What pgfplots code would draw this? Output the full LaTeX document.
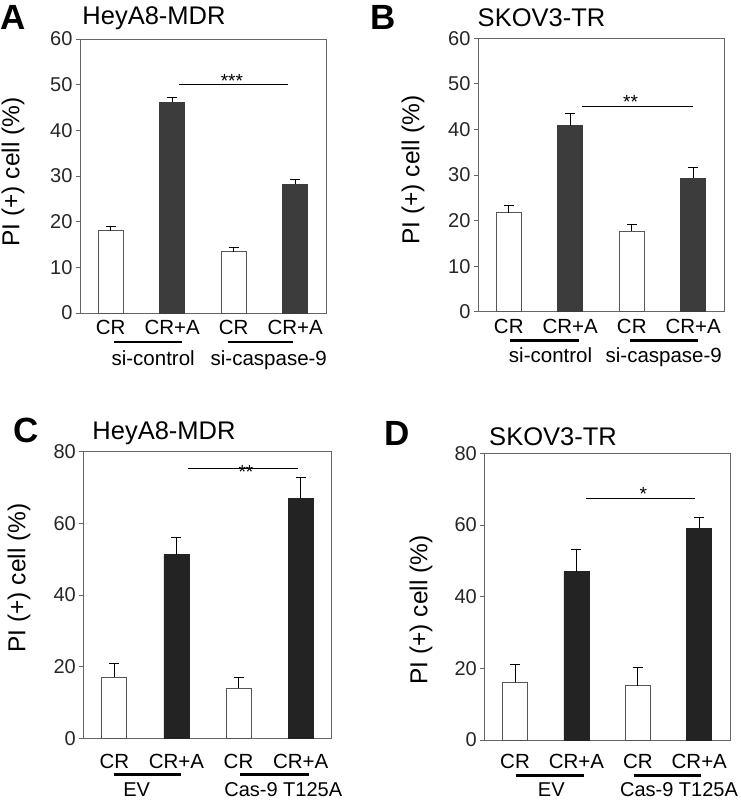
\documentclass[border=0pt]{standalone}
\usepackage{fontspec}
\setmainfont{Liberation Sans}
\usepackage{pgfplots}
\pgfplotsset{compat=1.18}
\definecolor{axgray}{HTML}{666666}
\definecolor{darkA}{HTML}{3C3C3C}
\definecolor{darkC}{HTML}{232323}
\definecolor{whiteedge}{HTML}{555555}
\newcommand{\fs}[1]{\fontsize{#1}{#1}\selectfont}
\pgfplotsset{
 panel/.style={
  scale only axis, anchor=south west,
  xmin=-0.5, xmax=3.5, ymin=0,
  axis line style={axgray, line width=0.8pt},
  xtick={0,1,2,3}, xticklabels={CR,CR+A,CR,CR+A},
  x tick style={draw=none},
  ytick pos=left, tick align=outside, major tick length=4pt,
  y tick style={axgray, line width=0.8pt},
  yticklabel style={font=\fs{20}, text=black!85},
  /pgf/number format/assume math mode=true,
  clip=false,
  ybar, bar width=25pt, bar shift=0pt,
 },
 wbar/.style={fill=white, draw=whiteedge, line width=0.8pt,
  error bars/.cd, y dir=plus, y explicit,
  error bar style={black, line width=1pt},
  error mark options={black, line width=1pt, mark size=5pt, rotate=90}},
 dbar/.style={fill=#1, draw=#1, line width=0.8pt,
  error bars/.cd, y dir=plus, y explicit,
  error bar style={black, line width=1pt},
  error mark options={black, line width=1pt, mark size=5pt, rotate=90}},
}
\begin{document}
\begin{tikzpicture}
\path[use as bounding box] (0,0) rectangle (741pt,800pt);
% ---------- A ----------
\begin{axis}[panel, at={(80pt,487pt)}, width=246pt, height=274pt,
  ymax=60, ytick={0,10,...,60},
  xticklabel style={font=\fs{20.5}, yshift=0pt}]
\addplot[wbar] coordinates {(0,18) +- (0,1.0) (2,13.4) +- (0,1.0)};
\addplot[dbar=darkA] coordinates {(1,46.1) +- (0,1.1) (3,28.2) +- (0,1.1)};
\draw[line width=1.1pt] (axis cs:1.11,50) -- (axis cs:2.88,50);
\node[font=\fs{19}, anchor=base, inner sep=0pt, yshift=-2.4pt] at (axis cs:1.97,50) {***};
\draw[line width=2.8pt] (axis cs:0.06,-6.35) -- (axis cs:1.16,-6.35);
\draw[line width=2.8pt] (axis cs:1.90,-6.35) -- (axis cs:2.97,-6.35);
\node[font=\fs{20.5}, anchor=base, inner sep=0pt] at (axis cs:0.69,-11.4) {si-control};
\node[font=\fs{20.5}, anchor=base, inner sep=0pt] at (axis cs:2.57,-11.4) {si-caspase-9};
\end{axis}
\node[font=\fs{35}\bfseries] at (13pt,783pt) {A};
\node[font=\fs{25.5}] at (154pt,782pt) {HeyA8-MDR};
\node[font=\fs{24.5}, rotate=90] at (13pt,628pt) {PI (+) cell (\%)};
% ---------- B ----------
\begin{axis}[panel, at={(478pt,488.3pt)}, width=246pt, height=273.4pt,
  ymax=60, ytick={0,10,...,60},
  xticklabel style={font=\fs{20.5}, yshift=0pt}]
\addplot[wbar] coordinates {(0,21.7) +- (0,1.5) (2,17.7) +- (0,1.5)};
\addplot[dbar=darkA] coordinates {(1,40.8) +- (0,2.6) (3,29.3) +- (0,2.4)};
\draw[line width=1.1pt] (axis cs:1.19,45.1) -- (axis cs:2.99,45.1);
\node[font=\fs{19}, anchor=base, inner sep=0pt, yshift=-2.4pt] at (axis cs:1.98,45.1) {**};
\draw[line width=2.8pt] (axis cs:0.02,-6.36) -- (axis cs:1.15,-6.36);
\draw[line width=2.8pt] (axis cs:1.97,-6.36) -- (axis cs:3.07,-6.36);
\node[font=\fs{20.5}, anchor=base, inner sep=0pt] at (axis cs:0.68,-11.2) {si-control};
\node[font=\fs{20.5}, anchor=base, inner sep=0pt] at (axis cs:2.52,-11.2) {si-caspase-9};
\end{axis}
\node[font=\fs{35}\bfseries] at (383pt,783pt) {B};
\node[font=\fs{25.5}] at (541.5pt,782pt) {SKOV3-TR};
\node[font=\fs{24.5}, rotate=90] at (413pt,630pt) {PI (+) cell (\%)};
% ---------- C ----------
\begin{axis}[panel, at={(83.3pt,61.7pt)}, width=248.4pt, height=286.6pt,
  ymax=80, ytick={0,20,...,80},
  xticklabel style={font=\fs{20.5}, yshift=-8pt}]
\addplot[wbar] coordinates {(0,17) +- (0,4) (2,14) +- (0,3)};
\addplot[dbar=darkC] coordinates {(1,51.2) +- (0,4.8) (3,67) +- (0,5.8)};
\draw[line width=1.1pt] (axis cs:1.19,75.3) -- (axis cs:2.96,75.3);
\node[font=\fs{19}, anchor=base, inner sep=0pt, yshift=-10pt] at (axis cs:2.12,75.3) {**};
\draw[line width=2.8pt] (axis cs:-0.01,-10.2) -- (axis cs:1.08,-10.2);
\draw[line width=2.8pt] (axis cs:2.03,-10.2) -- (axis cs:3.13,-10.2);
\node[font=\fs{20}, anchor=base, inner sep=0pt] at (axis cs:0.36,-16.2) {EV};
\node[font=\fs{20}, anchor=base, inner sep=0pt] at (axis cs:2.72,-16.2) {Cas-9 T125A};
\end{axis}
\node[font=\fs{35}\bfseries] at (26pt,370pt) {C};
\node[font=\fs{25.5}] at (164pt,366.7pt) {HeyA8-MDR};
\node[font=\fs{24.5}, rotate=90] at (19pt,222pt) {PI (+) cell (\%)};
% ---------- D ----------
\begin{axis}[panel, at={(484.3pt,60pt)}, width=245.7pt, height=286.7pt,
  ymax=80, ytick={0,20,...,80},
  xticklabel style={font=\fs{20.5}, yshift=-6.5pt}]
\addplot[wbar] coordinates {(0,16.1) +- (0,5.1) (2,15.2) +- (0,5.1)};
\addplot[dbar=darkC] coordinates {(1,47) +- (0,6.2) (3,59.1) +- (0,3.1)};
\draw[line width=1.1pt] (axis cs:1.16,67.5) -- (axis cs:2.93,67.5);
\node[font=\fs{19}, anchor=base, inner sep=0pt, yshift=-2.4pt] at (axis cs:2.09,67.5) {*};
\draw[line width=2.8pt] (axis cs:0.02,-9.96) -- (axis cs:1.12,-9.96);
\draw[line width=2.8pt] (axis cs:1.93,-9.96) -- (axis cs:3.03,-9.96);
\node[font=\fs{20}, anchor=base, inner sep=0pt] at (axis cs:0.59,-15.7) {EV};
\node[font=\fs{20}, anchor=base, inner sep=0pt] at (axis cs:2.67,-15.7) {Cas-9 T125A};
\end{axis}
\node[font=\fs{35}\bfseries] at (397pt,367pt) {D};
\node[font=\fs{25.5}] at (553pt,363.3pt) {SKOV3-TR};
\node[font=\fs{24.5}, rotate=90] at (421pt,190pt) {PI (+) cell (\%)};
\end{tikzpicture}
\end{document}
